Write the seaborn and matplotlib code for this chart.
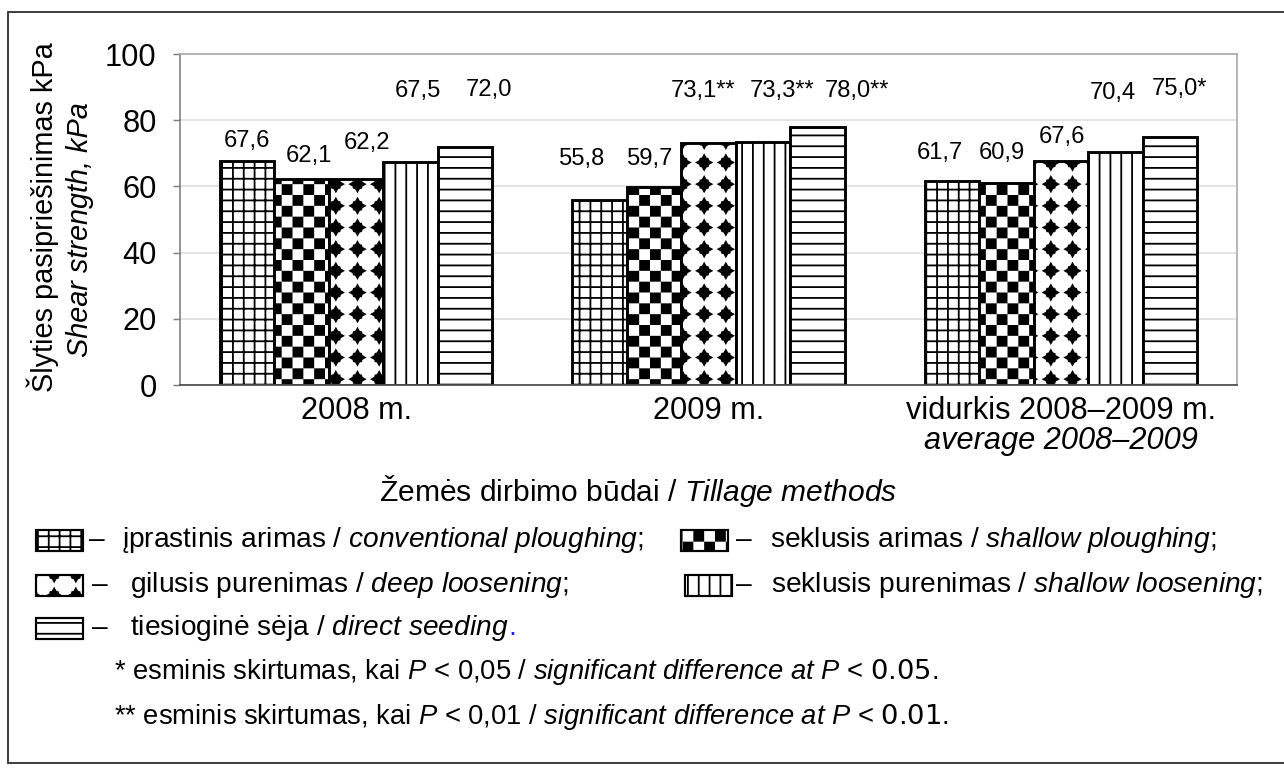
import warnings
import numpy as np
import pandas as pd
import matplotlib
matplotlib.use("Agg")
import matplotlib.pyplot as plt
import matplotlib.hatch as mhatch
import matplotlib.transforms as mtransforms
from matplotlib.path import Path
from matplotlib.patches import Rectangle
from matplotlib.lines import Line2D
import seaborn as sns

warnings.filterwarnings("ignore")

# ---------------- data ----------------
categories = ["2008 m.", "2009 m.", "vidurkis 2008–2009 m."]
category_en = ["", "", "average 2008–2009"]
methods = ["įprastinis arimas", "seklusis arimas", "gilusis purenimas",
           "seklusis purenimas", "tiesioginė sėja"]
methods_en = ["conventional ploughing", "shallow ploughing", "deep loosening",
              "shallow loosening", "direct seeding"]
values_2008 = [67.6, 62.1, 62.2, 67.5, 72.0]
values_2009 = [55.8, 59.7, 73.1, 73.3, 78.0]
values_avg = [61.7, 60.9, 67.6, 70.4, 75.0]
signif_2008 = ["", "", "", "", ""]
signif_2009 = ["", "", "**", "**", "**"]
signif_avg = ["", "", "", "", "*"]
y_ticks = [0, 20, 40, 60, 80, 100]
x_title = "Žemės dirbimo būdai"
x_title_en = "Tillage methods"
y_title = "Šlyties pasipriešinimas kPa"
y_title_en = "Shear strength, kPa"
note_1 = ("* esminis skirtumas, kai", "0,05", "0.05")
note_2 = ("** esminis skirtumas, kai", "0,01", "0.01")

# ---------------- layout / style ----------------
W, H, DPI = 1284, 769, 130
hatches = ["++", "c", "d", "||", "--"]
# label placement (data-unit heights and pixel offsets, as in the original figure)
label_y = [[73.7, 69.3, 73.0, 88.8, 89.1],
           [68.2, 68.2, 88.8, 88.8, 88.8],
           [70.0, 70.0, 74.8, 88.1, 89.3]]
label_dx = [[0, 7, 11, 7, 24],
            [-17, -4, -6, 19, 39],
            [-12, -4, 1, -2, 10]]
legend_slots = [(36, 540, 89, 122), (681, 540, 736, 770), (36, 585, 92, 130),
                (685, 585, 736, 771), (36, 628, 92, 130)]

sns.set_theme(style="white")
plt.rcParams["font.family"] = ["Liberation Sans", "DejaVu Sans"]
plt.rcParams["mathtext.fontset"] = "custom"
plt.rcParams["mathtext.rm"] = "Liberation Sans"
plt.rcParams["mathtext.it"] = "Liberation Sans:italic"
plt.rcParams["mathtext.bf"] = "Liberation Sans:bold"
plt.rcParams["mathtext.sf"] = "DejaVu Sans"
plt.rcParams["hatch.linewidth"] = 1.0
plt.rcParams["hatch.color"] = "black"

HLW_PX = plt.rcParams["hatch.linewidth"] * DPI / 72.0


# ---------------- custom fill patterns (checkerboard, diamonds) ----------------
class CheckerHatch(mhatch.HatchPatternBase):
    def __init__(self, hatch, density):
        self.n = 12 if "c" in hatch else 0
        self.num_vertices = (self.n * self.n // 2) * 5

    def set_vertices_and_codes(self, vertices, codes):
        n = self.n
        step = 1.0 / n
        s = 0.5 * HLW_PX / DPI
        k = 0
        for i in range(n):
            for j in range(n):
                if (i + j) % 2 == 0:
                    x0, y0 = i * step + s, j * step + s
                    x1, y1 = (i + 1) * step - s, (j + 1) * step - s
                    vertices[k:k + 5] = [(x0, y0), (x1, y0), (x1, y1), (x0, y1), (x0, y0)]
                    codes[k:k + 5] = [Path.MOVETO, Path.LINETO, Path.LINETO,
                                      Path.LINETO, Path.CLOSEPOLY]
                    k += 5


class DiamondHatch(mhatch.HatchPatternBase):
    def __init__(self, hatch, density):
        self.n = 6 if "d" in hatch else 0
        self.num_vertices = self.n * self.n * 17

    def set_vertices_and_codes(self, vertices, codes):
        n = self.n
        r = 8.2 / DPI - 0.5 * HLW_PX / DPI
        ang = np.arange(16) * np.pi / 8
        prof = np.array([1.0, 0.62, 0.72, 0.62] * 4)
        rad = prof * r
        shape = np.column_stack([rad * np.cos(ang), rad * np.sin(ang)])
        shape = np.vstack([shape, shape[:1]])
        k = 0
        for i in range(n):
            for j in range(n):
                c = np.array([(i + 0.5) / n, (j + 0.5) / n])
                vertices[k:k + 17] = shape + c
                codes[k:k + 17] = [Path.MOVETO] + [Path.LINETO] * 15 + [Path.CLOSEPOLY]
                k += 17


mhatch._hatch_types.extend([CheckerHatch, DiamondHatch])
mhatch._validate_hatch_pattern = lambda h: None


def fx(x):
    return x / W


def fy(y):
    return 1 - y / H


def it_words(s):
    return " ".join(r"$\mathit{" + w + "}$" for w in s.split(" "))


# ---------------- figure ----------------
fig = plt.figure(figsize=(W / DPI, H / DPI), dpi=DPI, facecolor="white")
ax = fig.add_axes([fx(180), fy(385), (1237 - 180) / W, (385 - 54) / H])

values = [values_2008, values_2009, values_avg]
signif = [signif_2008, signif_2009, signif_avg]
df = pd.DataFrame({
    "category": np.repeat(categories, len(methods)),
    "method": methods * len(categories),
    "value": values_2008 + values_2009 + values_avg,
})

sns.barplot(data=df, x="category", y="value", hue="method", order=categories,
            hue_order=methods, palette={m: "white" for m in methods},
            edgecolor="black", linewidth=1.6, width=0.773, saturation=1,
            errorbar=None, legend=False, ax=ax)

for i, cont in enumerate(ax.containers):
    for j, bar in enumerate(cont):
        bar.set_hatch(hatches[i])
        txt = f"{values[j][i]:.1f}".replace(".", ",") + signif[j][i]
        ax.annotate(txt, xy=(bar.get_x() + bar.get_width() / 2, label_y[j][i]),
                    xytext=(label_dx[j][i], 0), textcoords="offset pixels",
                    ha="center", va="center", fontsize=13.2, color="black")

ax.set_xlim(-0.5, 2.5)
ax.set_ylim(0, 100)
ax.set_yticks(y_ticks)
ax.set_yticklabels([str(t) for t in y_ticks])
ax.yaxis.grid(True, color="#dddddd", linewidth=0.9)
ax.xaxis.grid(False)
ax.set_axisbelow(True)

ax.set_xticks(range(len(categories)))
ax.set_xticklabels(categories)
ax.set_xticks([-0.5, 0.5, 1.5, 2.5], minor=True)
ax.tick_params(axis="x", which="major", length=0, pad=6, labelsize=17, colors="black")
ax.tick_params(axis="x", which="minor", length=6.5, width=0.8, color="#808080")
ax.tick_params(axis="y", which="major", length=4, width=0.8, color="#808080",
               pad=9, labelsize=17, labelcolor="black", left=True)

for side in ["top", "right"]:
    ax.spines[side].set_visible(True)
    ax.spines[side].set_color("#a8a8a8")
    ax.spines[side].set_linewidth(0.9)
ax.spines["left"].set_color("#808080")
ax.spines["left"].set_linewidth(0.9)
ax.spines["bottom"].set_color("#505050")
ax.spines["bottom"].set_linewidth(1.0)

blend = mtransforms.blended_transform_factory(ax.transData, ax.transAxes)
for k, en in enumerate(category_en):
    if en:
        ax.text(k, (385 - 441) / 331, en, transform=blend, ha="center", va="center",
                fontsize=17, style="italic", color="black")

# axis titles
ax.set_xlabel(x_title + " / " + it_words(x_title_en), fontsize=16.6, color="black")
ax.xaxis.set_label_coords((638 - 180) / 1057, (385 - 491) / 331)
ax.xaxis.label.set_va("center")
ax.set_ylabel(y_title, fontsize=16, color="black")
ax.yaxis.set_label_coords((43 - 180) / 1057, (385 - 217) / 331)
ax.yaxis.label.set_va("center")
fig.text(fx(80), fy(230), y_title_en, rotation=90, ha="center", va="center",
         fontsize=16, style="italic", color="black")

# legend (custom layout as in the original)
renderer = fig.canvas.get_renderer()
for i, (sx, sy, dx, tx) in enumerate(legend_slots):
    fig.add_artist(Rectangle((fx(sx), fy(sy + 10.5)), 47 / W, 21 / H,
                             transform=fig.transFigure, facecolor="white",
                             edgecolor="black", linewidth=1.2, hatch=hatches[i]))
    fig.text(fx(dx), fy(sy), "–", ha="left", va="center", fontsize=15.6, color="black")
    end = ";" if i < len(methods) - 1 else ""
    t = fig.text(fx(tx), fy(sy), methods[i] + " / " + it_words(methods_en[i]) + end,
                 ha="left", va="center", fontsize=15.6, color="black")
    if i == len(methods) - 1:
        bb = t.get_window_extent(renderer)
        fig.text(bb.x1 / W, fy(sy), ".", ha="left", va="center", fontsize=15.6,
                 color="#1a1aff")

# footnotes
for (pre, p_lt, p_en), y in [(note_1, 672), (note_2, 717)]:
    s = (pre + r" $\mathit{P}$ < " + p_lt + " / "
         + it_words("significant difference at P") + r" < $\mathsf{" + p_en + "}$.")
    fig.text(fx(114), fy(y), s, ha="left", va="center", fontsize=15.2, color="black")

# outer frame
for (x0, y0, x1, y1) in [(8, 12, 1284, 12), (8, 12, 8, 763), (8, 763, 1284, 763)]:
    fig.add_artist(Line2D([fx(x0), fx(x1)], [fy(y0), fy(y1)], transform=fig.transFigure,
                          color="#404040", linewidth=1.1))

fig.savefig("out.png", dpi=DPI, facecolor="white")
